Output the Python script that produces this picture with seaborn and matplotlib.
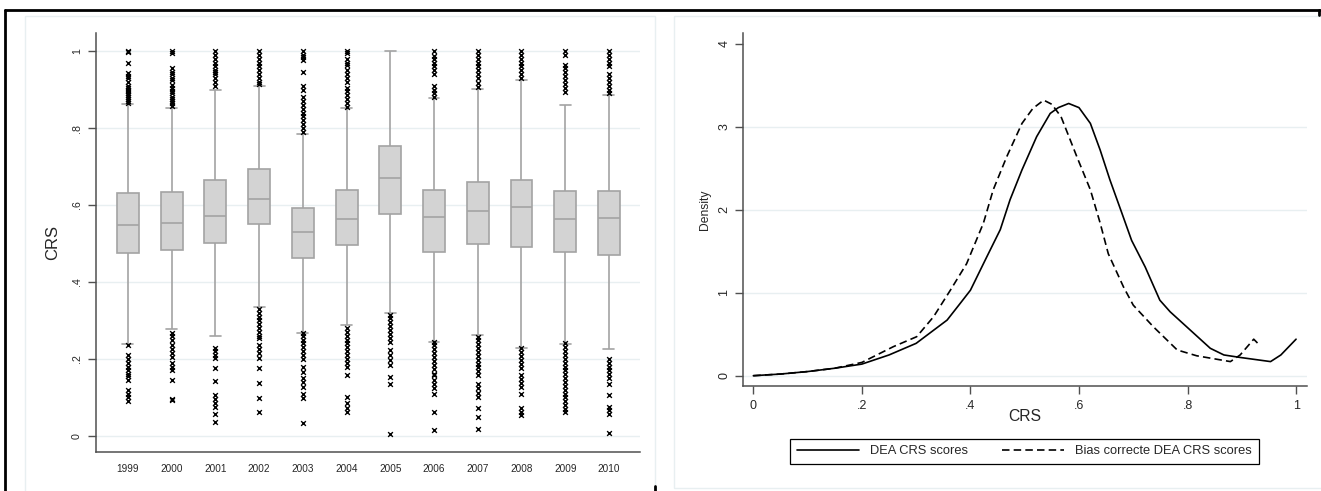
import numpy as np
import pandas as pd
import matplotlib
matplotlib.use("Agg")
import matplotlib.pyplot as plt
from matplotlib.patches import Rectangle
import seaborn as sns

# ---- left panel: CRS box plots by year ----
years = ['1999', '2000', '2001', '2002', '2003', '2004',
         '2005', '2006', '2007', '2008', '2009', '2010']
whis_lo = [0.238, 0.278, 0.260, 0.336, 0.268, 0.287, 0.319, 0.244, 0.262, 0.229, 0.239, 0.225]
q1 = [0.474, 0.484, 0.500, 0.551, 0.461, 0.495, 0.577, 0.479, 0.498, 0.492, 0.477, 0.469]
med = [0.549, 0.553, 0.571, 0.616, 0.531, 0.564, 0.671, 0.569, 0.584, 0.594, 0.564, 0.567]
q3 = [0.631, 0.633, 0.665, 0.694, 0.593, 0.639, 0.754, 0.640, 0.660, 0.665, 0.636, 0.636]
whis_hi = [0.862, 0.853, 0.900, 0.909, 0.785, 0.851, 1.000, 0.879, 0.902, 0.926, 0.860, 0.886]

hi_out = [
    [1.0, 0.998, 0.968, 0.942, 0.935, 0.93, 0.92, 0.91, 0.905, 0.9, 0.895, 0.89, 0.885, 0.88, 0.875, 0.87, 0.866],
    [1.0, 0.996, 0.955, 0.945, 0.94, 0.93, 0.925, 0.912, 0.905, 0.895, 0.89, 0.88, 0.875, 0.87, 0.865, 0.858],
    [1.0, 0.99, 0.98, 0.97, 0.96, 0.95, 0.945, 0.94, 0.93, 0.92, 0.91],
    [1.0, 0.99, 0.98, 0.97, 0.96, 0.95, 0.94, 0.93, 0.92, 0.915],
    [1.0, 0.99, 0.985, 0.976, 0.946, 0.91, 0.9, 0.88, 0.87, 0.86, 0.85, 0.84, 0.83, 0.82, 0.81, 0.8, 0.79],
    [1.0, 0.995, 0.98, 0.97, 0.963, 0.95, 0.94, 0.93, 0.92, 0.905, 0.895, 0.885, 0.875, 0.865, 0.855],
    [],
    [1.0, 0.988, 0.98, 0.97, 0.96, 0.95, 0.94, 0.91, 0.9, 0.89, 0.88],
    [1.0, 0.99, 0.98, 0.97, 0.96, 0.95, 0.94, 0.93, 0.917, 0.907],
    [1.0, 0.99, 0.98, 0.97, 0.96, 0.95, 0.94, 0.93],
    [1.0, 0.99, 0.963, 0.955, 0.945, 0.935, 0.925, 0.915, 0.905, 0.894],
    [1.0, 0.99, 0.98, 0.97, 0.96, 0.94, 0.93, 0.92, 0.91, 0.9, 0.89],
]
lo_out = [
    [0.236, 0.21, 0.2, 0.19, 0.18, 0.17, 0.16, 0.155, 0.145, 0.12, 0.11, 0.1, 0.09],
    [0.267, 0.26, 0.25, 0.236, 0.225, 0.215, 0.205, 0.19, 0.18, 0.171, 0.145, 0.097, 0.093],
    [0.228, 0.22, 0.21, 0.203, 0.176, 0.142, 0.106, 0.095, 0.085, 0.076, 0.058, 0.035],
    [0.33, 0.32, 0.31, 0.3, 0.29, 0.28, 0.27, 0.26, 0.254, 0.236, 0.225, 0.215, 0.203, 0.177, 0.137, 0.098, 0.063],
    [0.267, 0.26, 0.25, 0.24, 0.23, 0.22, 0.21, 0.2, 0.179, 0.166, 0.15, 0.14, 0.127, 0.11, 0.098, 0.034],
    [0.28, 0.27, 0.26, 0.25, 0.24, 0.23, 0.22, 0.21, 0.2, 0.19, 0.18, 0.158, 0.1, 0.085, 0.072, 0.062],
    [0.314, 0.305, 0.295, 0.285, 0.275, 0.265, 0.255, 0.245, 0.222, 0.21, 0.196, 0.184, 0.154, 0.136, 0.006],
    [0.244, 0.235, 0.225, 0.215, 0.205, 0.195, 0.185, 0.175, 0.162, 0.158, 0.145, 0.135, 0.125, 0.11, 0.063, 0.016],
    [0.258, 0.248, 0.238, 0.228, 0.218, 0.208, 0.198, 0.188, 0.178, 0.168, 0.158, 0.136, 0.125, 0.112, 0.1, 0.072, 0.05, 0.019],
    [0.228, 0.218, 0.208, 0.198, 0.188, 0.176, 0.158, 0.148, 0.138, 0.128, 0.11, 0.072, 0.062, 0.054],
    [0.24, 0.23, 0.22, 0.21, 0.2, 0.19, 0.18, 0.17, 0.16, 0.15, 0.14, 0.13, 0.12, 0.11, 0.1, 0.09, 0.08, 0.07, 0.063],
    [0.2, 0.19, 0.18, 0.17, 0.16, 0.15, 0.136, 0.106, 0.076, 0.066, 0.058, 0.008],
]
left_yticks = [0, 0.2, 0.4, 0.6, 0.8, 1.0]
left_yticklabels = ['0', '.2', '.4', '.6', '.8', '1']

# ---- right panel: kernel densities ----
dea_x = [0, 0.05, 0.10, 0.15, 0.20, 0.25, 0.30, 0.357, 0.381, 0.40, 0.43, 0.455, 0.473, 0.495,
         0.522, 0.547, 0.562, 0.581, 0.60, 0.621, 0.639, 0.657, 0.679, 0.697, 0.722, 0.749,
         0.768, 0.805, 0.842, 0.867, 0.897, 0.953, 0.972, 1.0]
dea_y = [0, 0.02, 0.05, 0.09, 0.14, 0.25, 0.39, 0.67, 0.87, 1.03, 1.43, 1.76, 2.12, 2.48,
         2.88, 3.16, 3.23, 3.28, 3.23, 3.04, 2.72, 2.36, 1.96, 1.63, 1.31, 0.91,
         0.77, 0.55, 0.33, 0.25, 0.22, 0.17, 0.25, 0.44]
bc_x = [0, 0.05, 0.10, 0.15, 0.20, 0.258, 0.301, 0.332, 0.363, 0.393, 0.424, 0.442, 0.467,
        0.495, 0.515, 0.535, 0.55, 0.567, 0.596, 0.621, 0.639, 0.654, 0.682, 0.700, 0.737,
        0.781, 0.817, 0.879, 0.897, 0.922, 0.934]
bc_y = [0, 0.02, 0.05, 0.09, 0.16, 0.35, 0.47, 0.71, 1.03, 1.35, 1.84, 2.24, 2.64,
        3.04, 3.22, 3.32, 3.27, 3.12, 2.64, 2.24, 1.84, 1.47, 1.07, 0.85, 0.59,
        0.31, 0.24, 0.17, 0.25, 0.44, 0.36]
right_xticks = [0, 0.2, 0.4, 0.6, 0.8, 1.0]
right_xticklabels = ['0', '.2', '.4', '.6', '.8', '1']
right_yticks = [0, 1, 2, 3, 4]

sns.set_style('white')
plt.rcParams['font.family'] = ['Liberation Sans', 'DejaVu Sans']

W, H = 1321, 491
fig = plt.figure(figsize=(W / 100, H / 100), dpi=100)

AXIS_C = '#505050'
GRID_C = '#e8eff1'


def px_axes(x0, y0, x1, y1):
    return fig.add_axes([x0 / W, 1 - y1 / H, (x1 - x0) / W, (y1 - y0) / H])


# background frame (table borders and graph region outlines)
bg = fig.add_axes([0, 0, 1, 1], zorder=-5)
bg.set_xlim(0, W)
bg.set_ylim(H, 0)
bg.axis('off')
bg.add_patch(Rectangle((25, 16), 630, 480, fill=False, ec=GRID_C, lw=1))
bg.add_patch(Rectangle((674, 16), 660, 472, fill=False, ec=GRID_C, lw=1))
bg.plot([5, 1320], [10, 10], color='black', lw=2)
bg.plot([5, 5], [10, 491], color='black', lw=2)
bg.plot([1319, 1319], [10, 15], color='black', lw=2)
bg.plot([655, 655], [486, 491], color='black', lw=2)

# ---- left panel ----
ax1 = px_axes(96, 33, 640, 452)
box_df = pd.DataFrame({
    'year': np.repeat(years, 5),
    'crs': np.column_stack([whis_lo, q1, med, q3, whis_hi]).ravel(),
})
out_df = pd.DataFrame({
    'year': [y for y, v in zip(years, hi_out) for _ in v] + [y for y, v in zip(years, lo_out) for _ in v],
    'crs': [x for v in hi_out for x in v] + [x for v in lo_out for x in v],
})

for t in left_yticks:
    ax1.axhline(t, color=GRID_C, lw=1, zorder=0)
sns.boxplot(data=box_df, x='year', y='crs', order=years, whis=(0, 100), width=0.5,
            color='#d3d3d3', linecolor='#a3a3a3', linewidth=1.2, saturation=1,
            showfliers=False, ax=ax1)
sns.stripplot(data=out_df, x='year', y='crs', order=years, jitter=False, marker='x',
              color='black', size=3.4, linewidth=1.0, ax=ax1)
ax1.set_xlim(-0.73, 11.71)
ax1.set_ylim(-0.042, 1.047)
ax1.set_yticks(left_yticks)
ax1.set_yticklabels(left_yticklabels, rotation=90, va='center')
ax1.tick_params(axis='y', length=6, width=1, color=AXIS_C, labelsize=7.7, pad=4, direction='out', left=True)
ax1.tick_params(axis='x', length=0, labelsize=7.2, pad=9)
ax1.set_xlabel('')
ax1.set_ylabel('CRS', fontsize=12)
ax1.yaxis.set_label_coords(-0.066, 0.5)
for s in ['top', 'right']:
    ax1.spines[s].set_visible(False)
for s in ['left', 'bottom']:
    ax1.spines[s].set_color(AXIS_C)
    ax1.spines[s].set_linewidth(1.1)

# ---- right panel ----
ax2 = px_axes(742.7, 33, 1306.7, 386)
for t in right_yticks[:-1]:
    ax2.axhline(t, color=GRID_C, lw=1, zorder=0)
sns.lineplot(x=dea_x, y=dea_y, color='black', lw=1.2, label='DEA CRS scores', ax=ax2)
sns.lineplot(x=bc_x, y=bc_y, color='black', lw=1.2, ax=ax2,
             label='Bias correcte DEA CRS scores')
ax2.lines[-1].set_dashes([4.5, 2.5])
ax2.set_xlim(-0.0196, 1.0196)
ax2.set_ylim(-0.124, 4.129)
ax2.set_xticks(right_xticks)
ax2.set_xticklabels(right_xticklabels)
ax2.set_yticks(right_yticks)
ax2.set_yticklabels([str(t) for t in right_yticks], rotation=90, va='center')
ax2.tick_params(axis='both', length=6, width=1, color=AXIS_C, labelsize=9, direction='out',
                left=True, bottom=True)
ax2.tick_params(axis='y', pad=3)
ax2.tick_params(axis='x', pad=4)
ax2.set_xlabel('CRS', fontsize=11.3)
ax2.xaxis.set_label_coords(0.5, -0.065)
ax2.set_ylabel('Density', fontsize=8.7)
ax2.yaxis.set_label_coords(-0.057, 0.5)
for s in ['top', 'right']:
    ax2.spines[s].set_visible(False)
for s in ['left', 'bottom']:
    ax2.spines[s].set_color(AXIS_C)
    ax2.spines[s].set_linewidth(1.1)

handles, labels = ax2.get_legend_handles_labels()
ax2.get_legend().remove()
leg = fig.legend(handles, labels, loc='center', ncol=2, fontsize=9.3,
                 bbox_to_anchor=(1024.4 / W, 1 - 451.3 / H), frameon=True, fancybox=False,
                 edgecolor='black', handlelength=4.8, handletextpad=0.9, columnspacing=2.6,
                 borderpad=0.5, framealpha=1)
leg.get_frame().set_linewidth(0.9)

fig.savefig('out.png', dpi=100)
